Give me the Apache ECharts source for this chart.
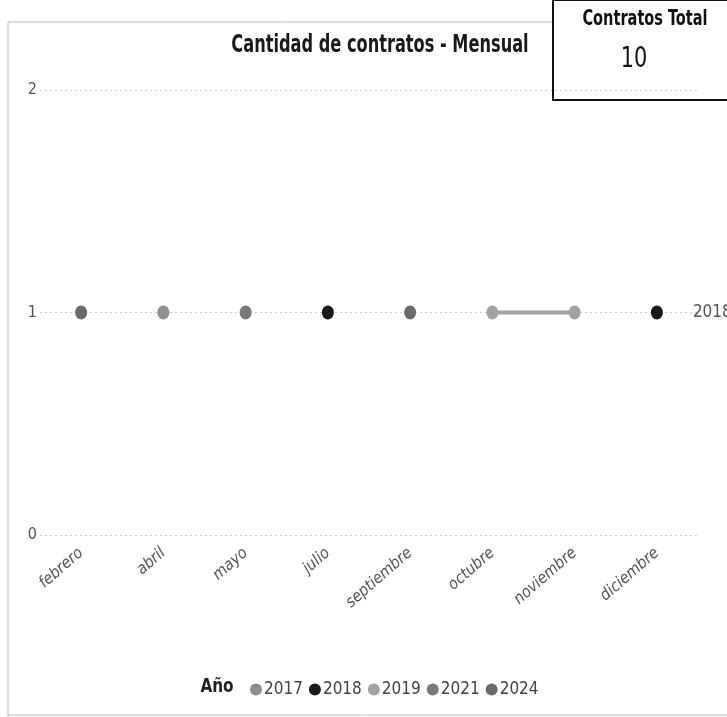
<!DOCTYPE html>
<html><head><meta charset="utf-8">
<script src="https://cdn.jsdelivr.net/npm/echarts@6/dist/echarts.min.js"></script>
<style>html,body{margin:0;padding:0;background:#fff}#c{width:727px;height:717px}</style>
</head><body><div id="c"></div>
<script>
const months = ['febrero','abril','mayo','julio','septiembre','octubre','noviembre','diciembre'];
const years = ['2017','2018','2019','2021','2024'];
const y2017 = [null,1,null,null,null,null,null,null];
const y2018 = [null,null,null,1,null,null,null,1];
const y2019 = [null,null,null,null,null,1,1,null];
const y2021 = [null,null,1,null,null,null,null,null];
const y2024 = [1,null,null,null,1,null,null,null];
const yTicks = [0,1,2];
const totalLabel = 'Contratos Total';
const totalValue = '10';
const colors = {'2017':'#8e8e8e','2018':'#1a1a1a','2019':'#a2a2a2','2021':'#7a7a7a','2024':'#6a6a6a'};
const seriesData = {'2017':y2017,'2018':y2018,'2019':y2019,'2021':y2021,'2024':y2024};
const F = "'DejaVu Sans Condensed','Liberation Sans Narrow',sans-serif";
const chart = echarts.init(document.getElementById('c'));
chart.setOption({
  animation:false,
  grid:{left:40,right:29,top:90,bottom:182,containLabel:false},
  legend:{data:years,left:245,top:676,icon:'circle',itemWidth:12,itemHeight:12,itemGap:6,
    textStyle:{fontFamily:F,fontSize:17,color:'#444',padding:[0,0,0,-3]}},
  xAxis:{type:'category',data:months,boundaryGap:true,
    axisLine:{show:false},axisTick:{show:false},
    axisLabel:{rotate:41,fontFamily:F,fontSize:16,color:'#555',margin:16,fontStyle:'italic',interval:0}},
  yAxis:{type:'value',min:yTicks[0],max:yTicks[yTicks.length-1],interval:1,
    axisLabel:{fontFamily:F,fontSize:16,color:'#555',margin:3},
    splitLine:{lineStyle:{type:[2,3],color:'#cfcfcf',width:1}},axisLine:{show:false},axisTick:{show:false}},
  series: years.map(y=>({
    name:y,type:'line',data:seriesData[y],symbol:'circle',symbolSize:[12,14],showAllSymbol:true,
    itemStyle:{color:colors[y]},lineStyle:{color:colors[y],width:4},connectNulls:false,
    endLabel: y==='2018' ? {show:true,formatter:'2018',distance:36,fontFamily:F,fontSize:17,color:'#555'} : {show:false}
  })),
  graphic:[
    {type:'polyline',shape:{points:[[8,716],[8,22],[553,22]]},style:{stroke:'#bbb',lineWidth:1,fill:null}},
    {type:'line',shape:{x1:8,y1:715,x2:727,y2:715},style:{stroke:'#bbb',lineWidth:1}},
    {type:'rect',shape:{x:553,y:0,width:180,height:100},style:{fill:'#fff',stroke:'#111',lineWidth:2}},
    {type:'text',x:380,y:45,scaleX:0.72,style:{text:'Cantidad de contratos - Mensual',fontFamily:F,fontSize:25,fontWeight:'bold',fill:'#1a1a1a',align:'center',verticalAlign:'middle'}},
    {type:'text',x:645,y:20,scaleX:0.77,style:{text:totalLabel,fontFamily:F,fontSize:21,fontWeight:'bold',fill:'#111',align:'center',verticalAlign:'middle'}},
    {type:'text',x:634,y:59,scaleX:0.8,style:{text:totalValue,fontFamily:F,fontSize:29,fill:'#111',align:'center',verticalAlign:'middle'}},
    {type:'text',x:217,y:687,scaleX:0.85,style:{text:'Año',fontFamily:F,fontSize:20,fontWeight:'bold',fill:'#222',align:'center',verticalAlign:'middle'}}
  ]
});
</script></body></html>
